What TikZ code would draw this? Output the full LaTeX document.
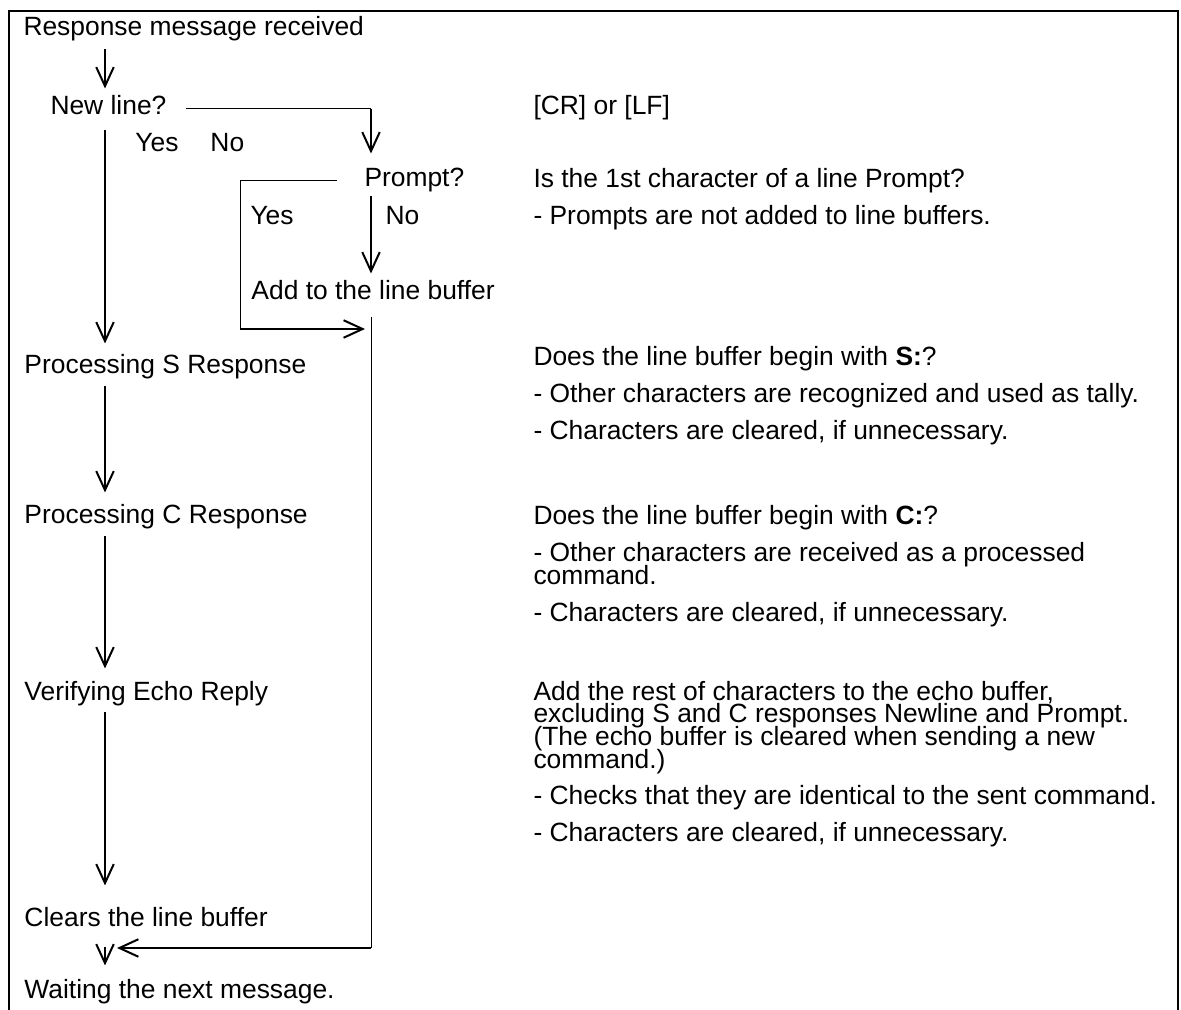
\documentclass[tikz,border=0pt]{standalone}
\usepackage{fontspec}
\setmainfont{Liberation Sans}
\usetikzlibrary{arrows.meta}

% tightly set lines of one note, baseline on the first line
\newcommand{\notelines}[1]{\vtop{\baselineskip=9.1pt\lineskiplimit=-\maxdimen\halign{##\hfil\cr#1\crcr}}}

\begin{document}
\begin{tikzpicture}[
    x=4pt, y=-4pt,
    font=\fontsize{10.56}{12}\selectfont,
    txt/.style={anchor=base west, inner sep=0pt, text height=0.72em, text depth=0.21em},
    note/.style={anchor=base west, inner sep=0pt},
    arrow/.style={-{Straight Barb[length=7.6pt, width=7pt]}, line width=0.8pt},
    link/.style={line width=0.4pt},
    frame/.style={line width=0.8pt}
  ]
  \useasboundingbox (0,0) rectangle (118.1,101);
  % frame, open at the bottom
  \draw[frame] (0.9,101) -- (0.9,1.1) -- (117.8,1.1) -- (117.8,101);

  % columns and turning points
  \coordinate (colL) at (10.5,0);
  \coordinate (colM) at (37.1,0);
  \coordinate (yesturn) at (24.0,32.9);
  \coordinate (backturn) at (37.1,94.8);

  % flow steps
  \node[txt] (resp) at (2.3,3.6) {Response message received};
  \node[txt] (newl) at (5.0,11.5) {New line?};
  \node[txt] (yesA) at (13.5,15.2) {Yes};
  \node[txt] (noA) at (21.0,15.2) {No};
  \node[txt] (prompt) at (36.4,18.7) {Prompt?};
  \node[txt] (yesB) at (25.0,22.5) {Yes};
  \node[txt] (noB) at (38.5,22.5) {No};
  \node[txt] (addbuf) at (25.1,30.0) {Add to the line buffer};
  \node[txt] (procS) at (2.4,37.4) {Processing S Response};
  \node[txt] (procC) at (2.4,52.4) {Processing C Response};
  \node[txt] (verify) at (2.4,70.0) {Verifying Echo Reply};
  \node[txt] (clear) at (2.4,92.7) {Clears the line buffer};
  \node[txt] (wait) at (2.4,99.8) {Waiting the next message.};

  % notes
  \node[txt] (crlf) at (53.3,11.5) {[CR] or [LF]};
  \node[txt] (isfirst) at (53.3,18.8) {Is the 1st character of a line Prompt?};
  \node[txt] (noprompt) at (53.3,22.5) {- Prompts are not added to line buffers.};
  \node[txt] (begS) at (53.3,36.6) {Does the line buffer begin with \textbf{S:}?};
  \node[txt] (tallyS) at (53.3,40.3) {- Other characters are recognized and used as tally.};
  \node[txt] (clrS) at (53.3,44.0) {- Characters are cleared, if unnecessary.};
  \node[txt] (begC) at (53.3,52.5) {Does the line buffer begin with \textbf{C:}?};
  \node[note] (cmdC) at (53.3,56.2) {\notelines{- Other characters are received as a processed\cr
    command.}};
  \node[txt] (clrC) at (53.3,62.2) {- Characters are cleared, if unnecessary.};
  \node[note] (echo) at (53.3,70.0) {\notelines{Add the rest of characters to the echo buffer,\cr
    excluding S and C responses Newline and Prompt.\cr
    (The echo buffer is cleared when sending a new\cr
    command.)}};
  \node[txt] (check) at (53.3,80.5) {- Checks that they are identical to the sent command.};
  \node[txt] (clrV) at (53.3,84.2) {- Characters are cleared, if unnecessary.};

  % connectors
  \draw[arrow, shorten <=3pt, shorten >=3.2pt] (colL |- resp.south) -- (colL |- newl.north);
  \draw[link, shorten <=7.6pt] (newl.east) -- (colM |- newl.east);
  \draw[arrow, shorten >=6pt] (colM |- newl.east) -- (colM |- prompt.north);
  \draw[arrow, shorten <=3.8pt, shorten >=4.8pt] (colL |- newl.south) -- (colL |- procS.north);
  \draw[link, shorten <=10.8pt] (prompt.west) -| (yesturn);
  \draw[arrow, shorten >=2.4pt] (yesturn) -- (yesturn -| colM);
  \draw[arrow, shorten <=1.4pt, shorten >=3.2pt] (colM |- prompt.south) -- (colM |- addbuf.north);
  \draw[link, shorten <=4.6pt] (colM |- addbuf.south) -- (backturn);
  \draw[arrow, shorten >=4.8pt] (backturn) -- (backturn -| colL);
  \draw[arrow, shorten <=2.6pt, shorten >=5.2pt] (colL |- procS.south) -- (colL |- procC.north);
  \draw[arrow, shorten <=2.6pt, shorten >=5.2pt] (colL |- procC.south) -- (colL |- verify.north);
  \draw[arrow, shorten <=2.6pt, shorten >=9.2pt] (colL |- verify.south) -- (colL |- clear.north);
  \draw[arrow, shorten <=5.8pt, shorten >=5.6pt] (colL |- clear.south) -- (colL |- wait.north);
\end{tikzpicture}
\end{document}
